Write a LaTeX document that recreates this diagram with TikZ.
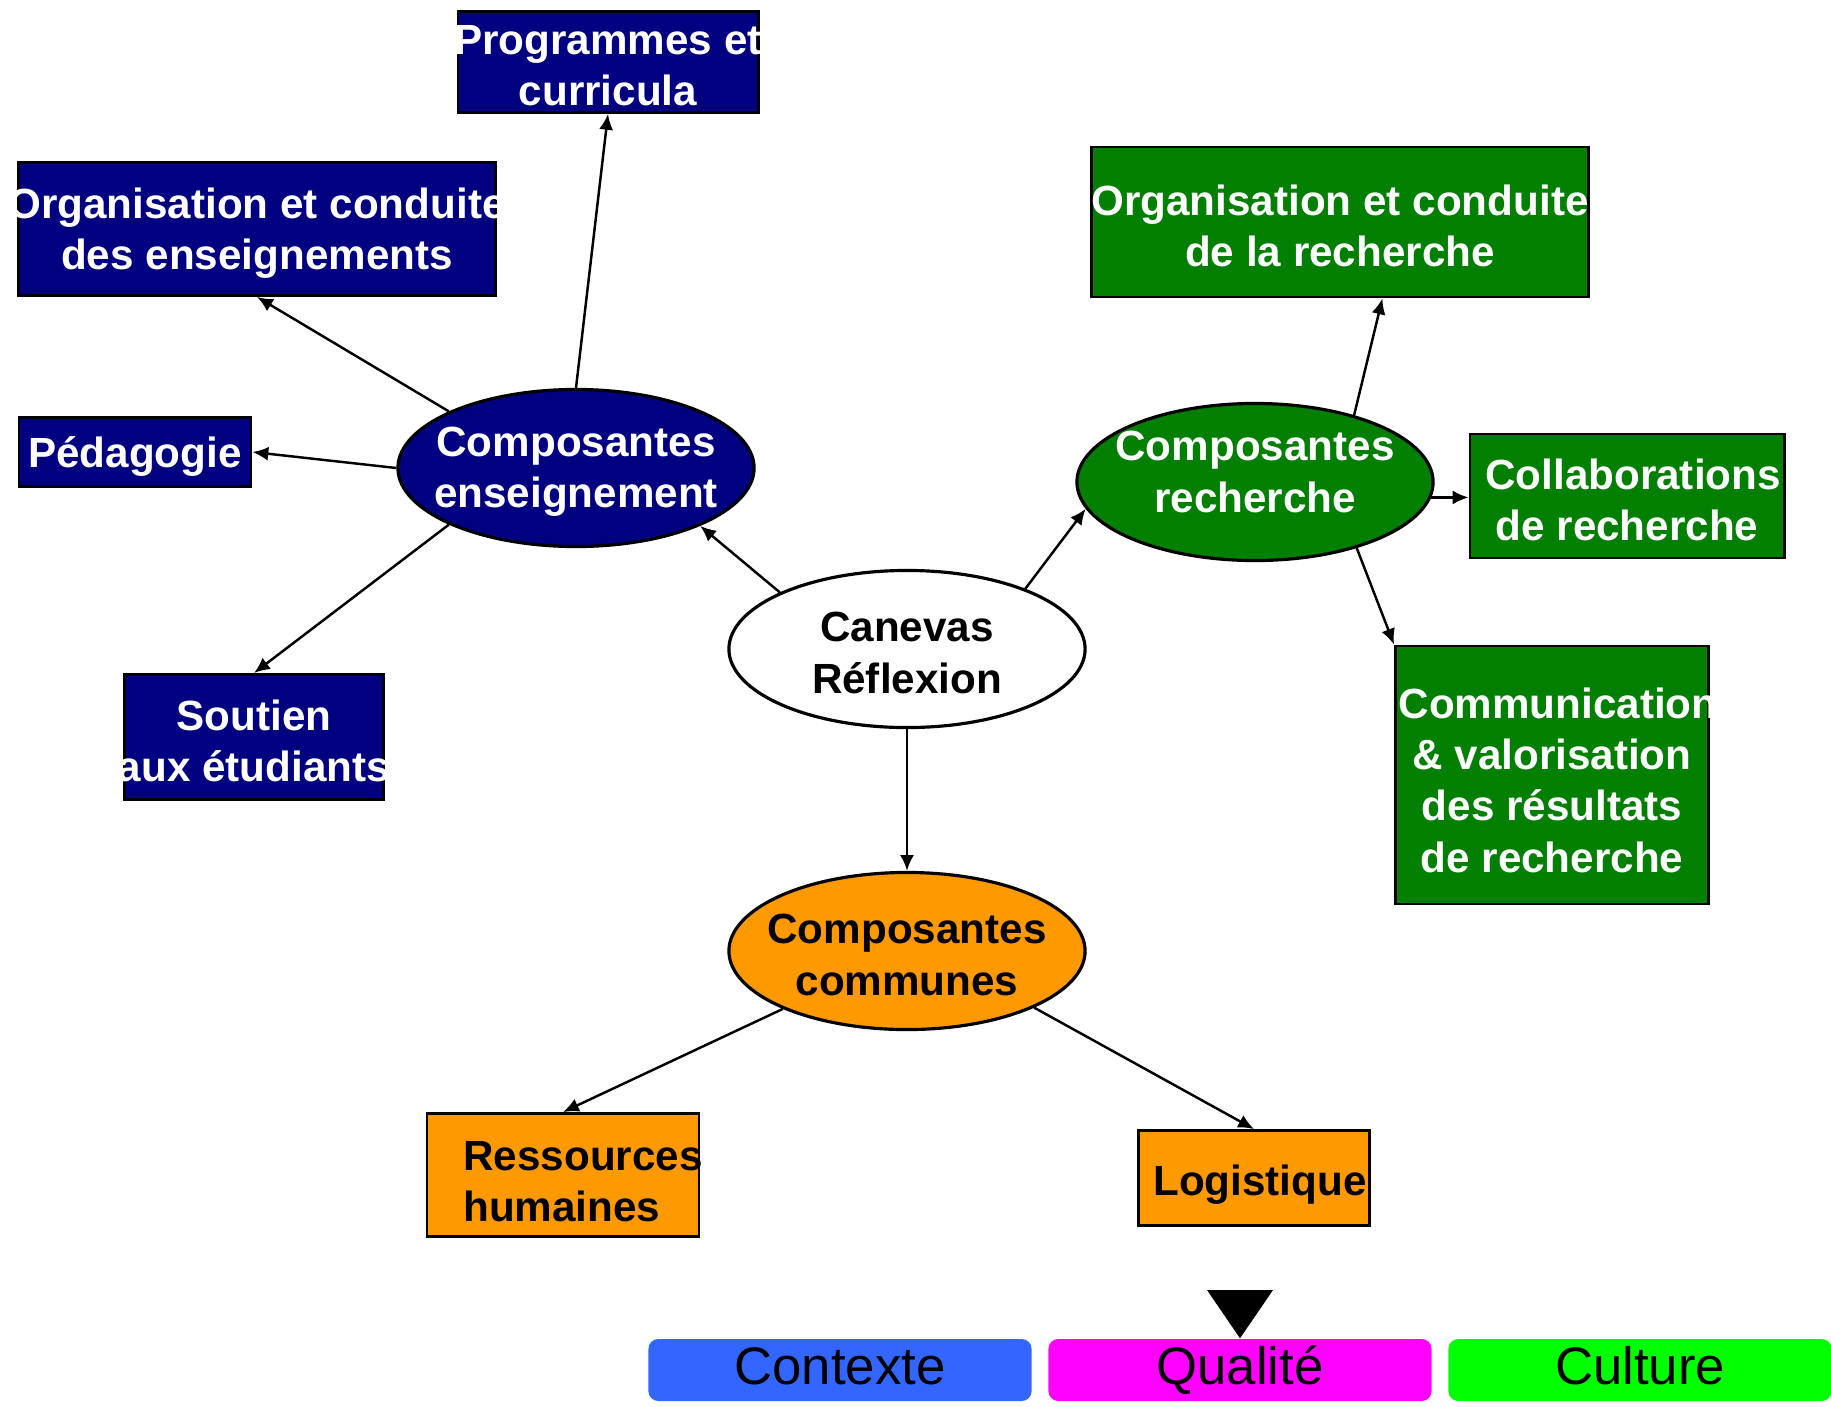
\documentclass[tikz,border=0pt]{standalone}
\usepackage{fontspec}
\setmainfont{Liberation Sans}
\usetikzlibrary{arrows.meta,shapes.geometric}
\definecolor{navyfill}{HTML}{000080}
\definecolor{greenfill}{HTML}{007F00}
\definecolor{orangefill}{HTML}{FF9900}
\definecolor{contextefill}{HTML}{3366FF}
\definecolor{qualitefill}{HTML}{FF00FF}
\definecolor{culturefill}{HTML}{00FF00}
\newcommand{\fitln}[2][-0.04cm]{\makebox[0pt]{\raisebox{#1}[\height][\depth]{#2}}}

\begin{document}
\begin{tikzpicture}[x=0.01cm, y=-0.01cm,
	boxtxt/.style={font=\bfseries\fontsize{12}{14.6}\selectfont, align=center},
	navybox/.style={boxtxt, draw=black, line width=0.8pt, fill=navyfill, text=white, inner sep=0pt},
	greenbox/.style={boxtxt, draw=black, line width=0.8pt, fill=greenfill, text=white, inner sep=0pt},
	orangebox/.style={boxtxt, draw=black, line width=0.8pt, fill=orangefill, text=black, inner sep=0pt},
	oval/.style={boxtxt, ellipse, draw=black, line width=0.9pt, inner sep=0pt, minimum width=3.56cm, minimum height=1.57cm},
	bar/.style={rounded corners=0.1cm, minimum width=3.83cm, minimum height=0.62cm, inner sep=0pt, text=black, text height=11pt, text depth=3pt, font=\fontsize{15}{18}\selectfont},
	link/.style={-{Latex[length=4.5pt,width=4pt]}, line width=0.7pt}]
			%%%%% START %%%%%
			\useasboundingbox (0,0) rectangle (1831,1406);
			
			% centre
			\node[oval, fill=white] (can) at (907,649) {\fitln{Canevas}\\\fitln{Réflexion}};
			
			% enseignement
			\node[oval, fill=navyfill, text=white] (ce) at (576,468) {\fitln{Composantes}\\\fitln{enseignement}};
			\node[navybox, minimum width=3.00cm, minimum height=1.01cm] (prog) at (608,62) {\fitln{Programmes et}\\\fitln{curricula}};
			\node[navybox, minimum width=4.77cm, minimum height=1.33cm] (orgens) at (257,229) {\fitln{Organisation et conduite}\\\fitln{des enseignements}};
			\node[navybox, minimum width=2.32cm, minimum height=0.69cm] (ped) at (135,452) {\fitln{Pédagogie}};
			\node[navybox, minimum width=2.59cm, minimum height=1.25cm] (sout) at (254,737) {\fitln{Soutien}\\\fitln{aux étudiants}};
			
			% recherche
			\node[oval, fill=greenfill, text=white] (cr) at (1255,482) {\fitln[0.1cm]{Composantes}\\\fitln[0.1cm]{recherche}};
			\node[greenbox, minimum width=4.96cm, minimum height=1.50cm] (orgrech) at (1340,222) {\fitln{Organisation et conduite}\\\fitln{de la recherche}};
			\node[greenbox, minimum width=3.14cm, minimum height=1.24cm] (collab) at (1627,496) {\fitln{\hspace*{0.12cm}Collaborations}\\\fitln{de recherche}};
			\node[greenbox, minimum width=3.13cm, minimum height=2.58cm] (comm) at (1552,775) {\fitln[-0.05cm]{\hspace*{0.12cm}Communication}\\\fitln[-0.05cm]{\& valorisation}\\\fitln[-0.05cm]{des résultats}\\\fitln[-0.05cm]{de recherche}};
			
			% communes
			\node[oval, fill=orangefill] (cc) at (907,951) {\fitln{Composantes}\\\fitln{communes}};
			\node[orangebox, minimum width=2.72cm, minimum height=1.23cm] (res) at (563,1175) {\fitln[-0.11cm]{\hspace*{0.4cm}\begin{tabular}{@{}l@{}}Ressources\\humaines\end{tabular}}};
			\node[orangebox, minimum width=2.31cm, minimum height=0.95cm] (logi) at (1254,1178) {\fitln[-0.07cm]{\hspace*{0.12cm}Logistique}};
			
			% liens
			\draw[link] (can.156) -- (ce.335);
			\draw[link] (can.27) -- (cr.189);
			\draw[link] (can.south) -- (cc.north);
			
			\draw[link] (ce.north) -- (prog.south);
			\draw[link] (ce.156) -- (orgens.south);
			\draw[link] (ce.west) -- (ped.east);
			\draw[link] (ce.204) -- (sout.north);
			
			\draw[link] (cr.34) -- (orgrech.299);
			\draw[link] (cr.-5) -- (cr.-5 -| collab.west);
			\draw[link] (cr.327) -- (comm.north west);
			
			\draw[link] (cc.205) -- (res.north);
			\draw[link] (cc.336) -- (logi.north);
			
			% bandeau du bas
			\node[bar, fill=contextefill] (ctx) at (840,1370) {Contexte};
			\node[bar, fill=qualitefill] (qual) at (1240,1370) {Qualité};
			\node[bar, fill=culturefill] (cult) at (1640,1370) {Culture};
			\fill[black] (1207,1290) -- (1273,1290) -- (qual.north) -- cycle;
			%%%%% END %%%%%
\end{tikzpicture}
\end{document}
